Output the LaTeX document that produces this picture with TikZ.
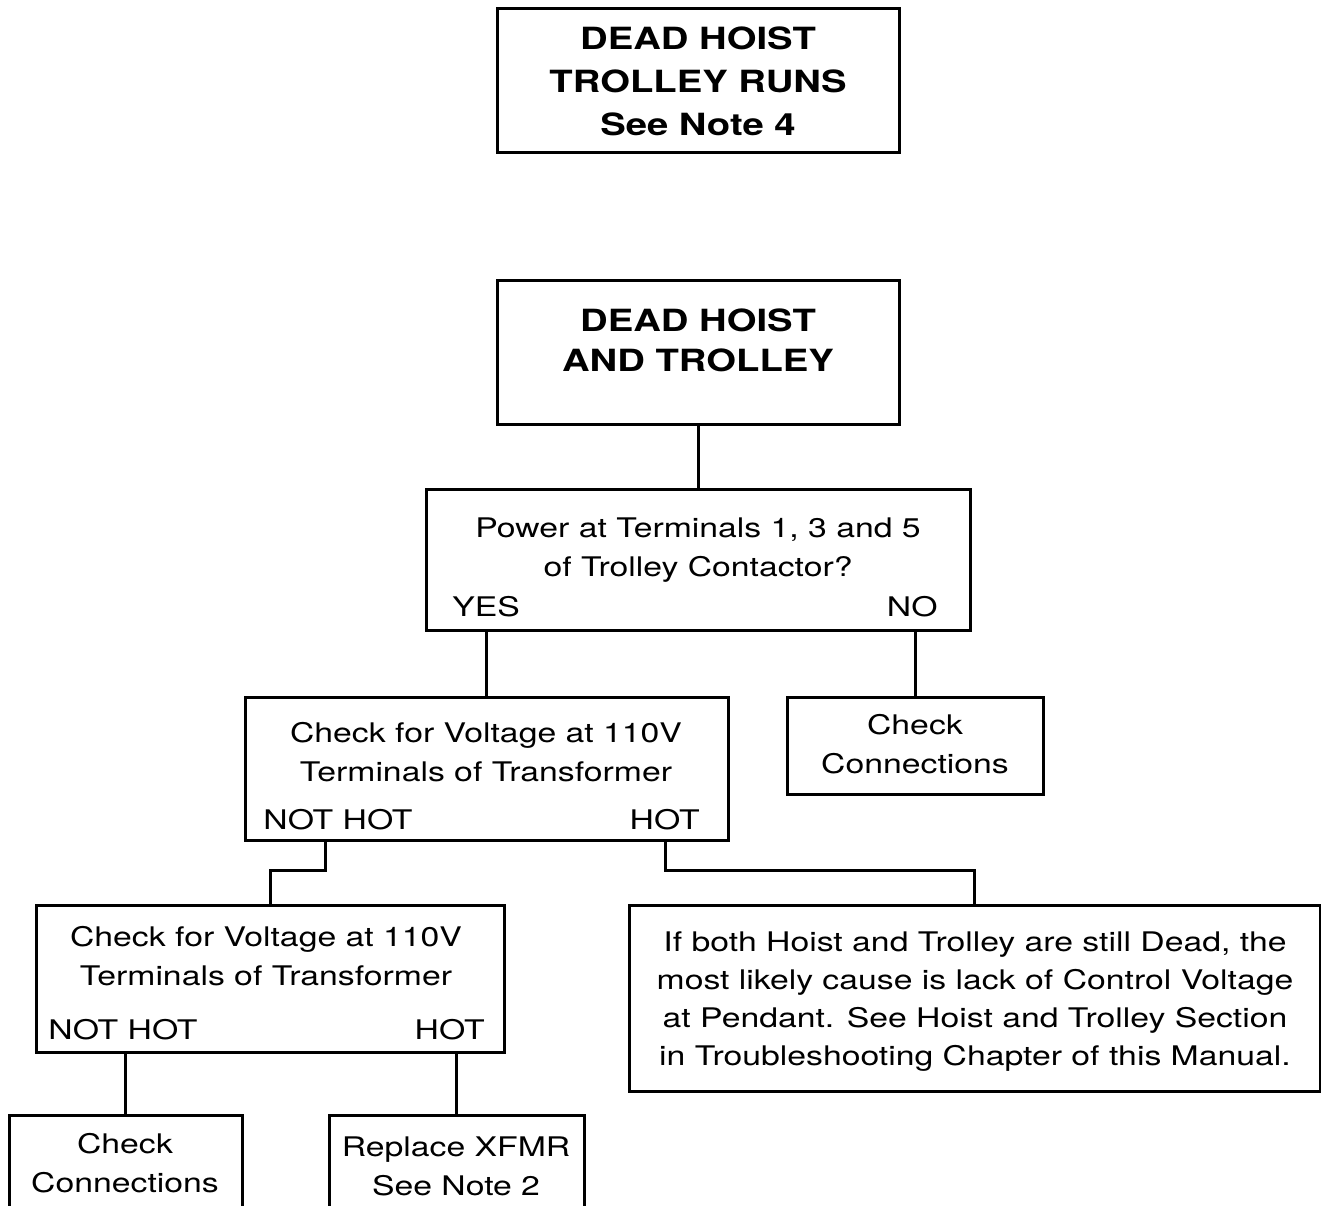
\documentclass[tikz,border=0pt]{standalone}
\usepackage{fontspec}
\setmainfont{TeX Gyre Heros}[FakeStretch=1.25]
\usepackage{tikz}
\usetikzlibrary{positioning, fit, calc}
\tikzset{
  box/.style={draw, line width=1.5pt, inner sep=0pt},
  txt/.style={font=\fontsize{13.5}{19.5}\selectfont, align=center, inner sep=0pt, anchor=base},
  head/.style={font=\fontsize{15.3}{21.5}\selectfont\bfseries, align=center, inner sep=0pt, anchor=base},
  tag/.style={font=\fontsize{13.5}{19.5}\selectfont, inner sep=0pt},
  wire/.style={line width=1.5pt}
}

\begin{document}
\begin{tikzpicture}[x=0.5pt, y=-0.5pt]
    \useasboundingbox (0,0) rectangle (1321,1205);

    % Boxes
    \node[box, fit={(497,8) (899,152)}] (runs) {};
    \node[box, fit={(497,280) (899,424)}] (hoist) {};
    \node[box, fit={(426,489) (970,630)}] (power) {};
    \node[box, fit={(245,697) (728,840)}] (volt1) {};
    \node[box, fit={(787,697) (1043,794)}] (chk1) {};
    \node[box, fit={(36,905) (504,1052)}] (volt2) {};
    \node[box, fit={(629,905) (1320,1091)}] (note) {};
    \node[box, fit={(9,1115) (242,1240)}] (chk2) {};
    \node[box, fit={(329,1115) (584,1240)}] (repl) {};

    % Texts (anchored at the last line)
    \node[head] (runstxt) at (698,135) {DEAD HOIST\\TROLLEY RUNS\\See Note 4};
    \node[head, font=\fontsize{15.3}{19.75}\selectfont\bfseries] (hoisttxt) at (698,371) {DEAD HOIST\\AND TROLLEY};
    \node[txt] (powertxt) at (698,576) {Power at Terminals 1, 3 and 5\\of Trolley Contactor?};
    \node[txt] (volt1txt) at (486,781) {Check for Voltage at 110V\\Terminals of Transformer};
    \node[txt] (chk1txt) at (915,773) {Check\\Connections};
    \node[txt] (volt2txt) at (266,985) {Check for Voltage at 110V\\Terminals of Transformer};
    \node[txt, font=\fontsize{13.5}{19}\selectfont] (notetxt) at (975,1065) {If both Hoist and Trolley are still Dead, the\\most likely cause is lack of Control Voltage\\at Pendant. See Hoist and Trolley Section\\in Troubleshooting Chapter of this Manual.};
    \node[txt] (chk2txt) at (125,1192) {Check\\Connections};
    \node[txt] (repltxt) at (456,1195) {Replace XFMR\\See Note 2};

    % Answers
    \node[tag, anchor=base west] (yes) at (452,616) {YES};
    \node[tag, anchor=base east] (no) at (938,616) {NO};
    \node[tag, anchor=base west] (nothot1) at (263,829) {NOT HOT};
    \node[tag, anchor=base east] (hot1) at (700,829) {HOT};
    \node[tag, anchor=base west] (nothot2) at (48,1039) {NOT HOT};
    \node[tag, anchor=base east] (hot2) at (485,1039) {HOT};

    % Connectors
    \coordinate (j1) at (325,870);
    \coordinate (j2) at (665,870);
    \coordinate (y1) at (486,630);
    \draw[wire] (hoist.south) -- (power.north);
    \draw[wire] (y1) -- (volt1.north -| y1);
    \draw[wire] (chk1.north |- power.south) -- (chk1.north);
    \draw[wire] (volt1.south -| j1) -- (j1) -| (volt2.north);
    \draw[wire] (volt1.south -| j2) -- (j2) -| (note.north);
    \draw[wire] (chk2.north |- volt2.south) -- (chk2.north);
    \draw[wire] (repl.north |- volt2.south) -- (repl.north);
\end{tikzpicture}
\end{document}
